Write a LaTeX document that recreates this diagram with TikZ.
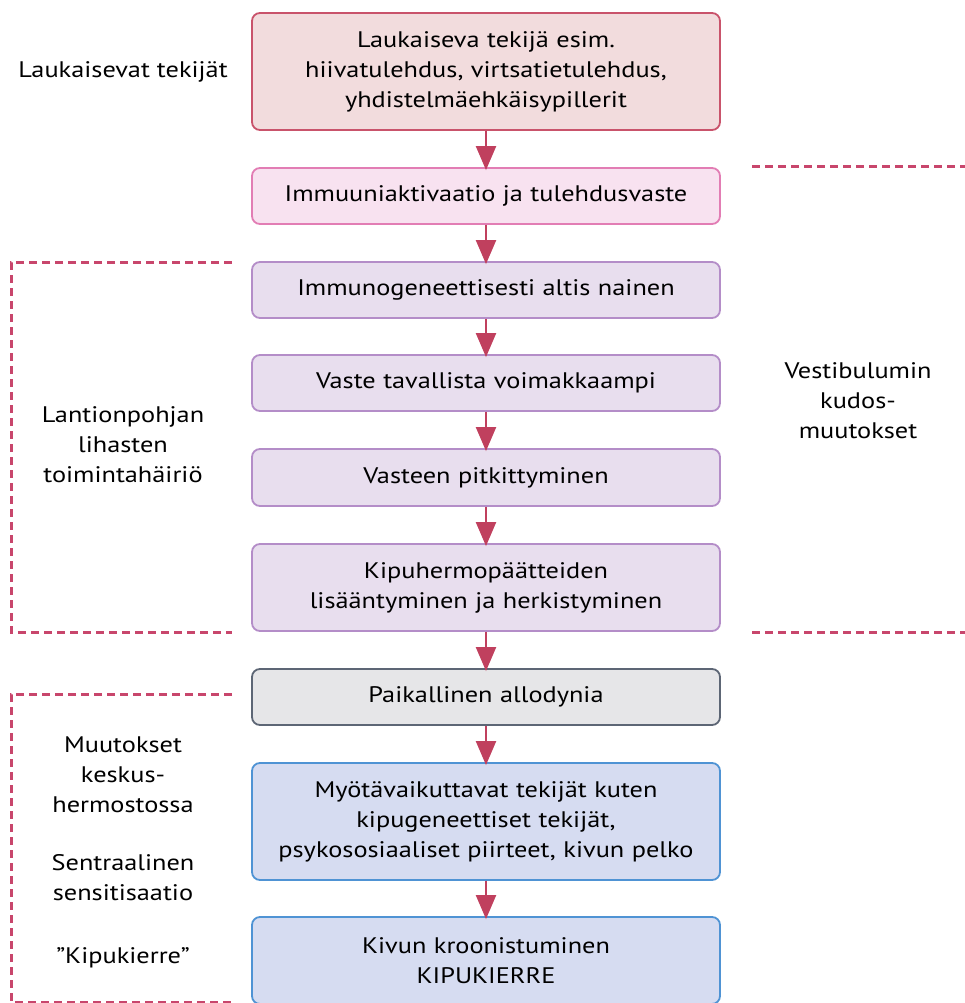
\documentclass[tikz,border=0pt]{standalone}
\usepackage{fontspec}
\setmainfont{PT Sans}[FakeStretch=1.17]
\usetikzlibrary{arrows.meta}

\definecolor{redfill}{HTML}{F2DCDD}
\definecolor{redline}{HTML}{C9536B}
\definecolor{pinkfill}{HTML}{F8E2F0}
\definecolor{pinkline}{HTML}{E27DB4}
\definecolor{lilacfill}{HTML}{E8DEEE}
\definecolor{lilacline}{HTML}{B48DC8}
\definecolor{greyfill}{HTML}{E6E6E8}
\definecolor{greyline}{HTML}{5D6675}
\definecolor{bluefill}{HTML}{D6DCF1}
\definecolor{blueline}{HTML}{4F93D4}
\definecolor{arrowred}{HTML}{C0405E}
\definecolor{dashred}{HTML}{C8466C}

\tikzset{
  flowbox/.style={rounded corners=8pt, line width=1.8pt, minimum width=468pt,
    text width=460pt, align=center, inner sep=0pt,
    font=\fontsize{22.5}{30}\selectfont},
  sidetext/.style={align=center, font=\fontsize{22.5}{30}\selectfont},
  flowarrow/.style={draw=arrowred, line width=2.2pt,
    -{Triangle[width=20pt,length=24pt]}, shorten >=-3pt, fill=arrowred},
  bracket/.style={draw=dashred, line width=3pt, dash pattern=on 8pt off 5pt}
}

\begin{document}
\begin{tikzpicture}[x=1pt,y=-1pt]

\useasboundingbox (0,0) rectangle (965,1003);

% Draw the boxes
\node[flowbox, draw=redline, fill=redfill, minimum height=117pt] (trigger) at (486,71.5)
  {Laukaiseva tekijä esim.\\hiivatulehdus, virtsatietulehdus,\\yhdistelmäehkäisypillerit};
\node[flowbox, draw=pinkline, fill=pinkfill, minimum height=56pt] (immune) at (486,196)
  {Immuuniaktivaatio ja tulehdusvaste};
\node[flowbox, draw=lilacline, fill=lilacfill, minimum height=56pt] (prone) at (486,290)
  {Immunogeneettisesti altis nainen};
\node[flowbox, draw=lilacline, fill=lilacfill, minimum height=56pt] (strong) at (486,383)
  {Vaste tavallista voimakkaampi};
\node[flowbox, draw=lilacline, fill=lilacfill, minimum height=57pt] (prolong) at (486,477.5)
  {Vasteen pitkittyminen};
\node[flowbox, draw=lilacline, fill=lilacfill, minimum height=87pt] (nerves) at (486,587.5)
  {Kipuhermopäätteiden\\lisääntyminen ja herkistyminen};
\node[flowbox, draw=greyline, fill=greyfill, minimum height=56pt] (allodynia) at (486,697)
  {Paikallinen allodynia};
\node[flowbox, draw=blueline, fill=bluefill, minimum height=117pt] (factors) at (486,821.5)
  {Myötävaikuttavat tekijät kuten\\kipugeneettiset tekijät,\\psykososiaaliset piirteet, kivun pelko};
\node[flowbox, draw=blueline, fill=bluefill, minimum height=87pt] (chronic) at (486,960.5)
  {Kivun kroonistuminen\\KIPUKIERRE};

% Draw the arrows
\draw[flowarrow] (trigger) -- (immune);
\draw[flowarrow] (immune) -- (prone);
\draw[flowarrow] (prone) -- (strong);
\draw[flowarrow] (strong) -- (prolong);
\draw[flowarrow] (prolong) -- (nerves);
\draw[flowarrow] (nerves) -- (allodynia);
\draw[flowarrow] (allodynia) -- (factors);
\draw[flowarrow] (factors) -- (chronic);

% Draw the side texts
\node[sidetext] (triggers) at (123,72) {Laukaisevat tekijät};
\node[sidetext] (pelvic) at (123,445) {Lantionpohjan\\lihasten\\toimintahäiriö};
\node[sidetext] (vestibule) at (858,401) {Vestibulumin\\kudos-\\muutokset};
\node[sidetext] (central) at (123,775) {Muutokset\\keskus-\\hermostossa};
\node[sidetext] (sensit) at (123,878) {Sentraalinen\\sensitisaatio};
\node[sidetext] (cycle) at (123,958) {”Kipukierre”};

% Draw the dashed brackets
\draw[bracket] (232,262) -- (11,262) -- (11,632) -- (232,632);
\draw[bracket] (752,167) -- (965,167);
\draw[bracket] (752,632) -- (965,632);
\draw[bracket] (232,694) -- (11,694) -- (11,1002) -- (232,1002);

\end{tikzpicture}
\end{document}
